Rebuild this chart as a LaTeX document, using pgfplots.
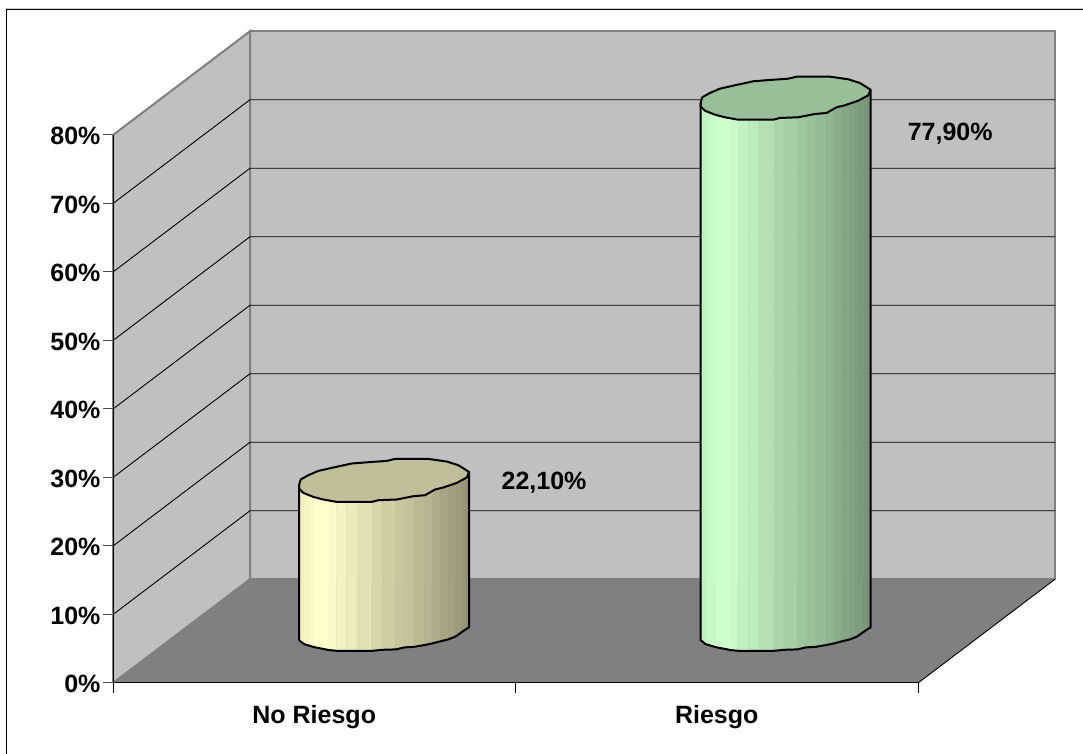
\documentclass[border=0pt]{standalone}
\usepackage{fontspec}
\setmainfont{Liberation Sans}
\usepackage{pgfplots}
\usepackage{pgfplotstable}
\pgfplotsset{compat=1.18}

\definecolor{wallgray}{HTML}{C0C0C0}
\definecolor{floorgray}{HTML}{808080}
\definecolor{cylyellow}{HTML}{FFFFCC}
\definecolor{cylgreen}{HTML}{CCFFCC}

% Outline of a cylinder's top face: pixel offsets from its centre
\pgfplotstableread{
dx dy
-85 4.5
-83.3 -1.2
-75.7 -5.5
-65.7 -9.8
-50.7 -13.2
-32.3 -17.2
-15.7 -18.5
2.7 -19.8
11 -21.8
44.3 -21.8
62.7 -19.2
74.3 -15.5
85 -8.8
82.7 -3.2
72.7 2.2
59.3 6.8
51 8.8
41 14.5
29.3 15.5
12.7 18.8
-5.7 19.5
-12.3 21.2
-47.3 21.2
-60.7 18.8
-70.7 16.2
-80.7 12.2
-85 7.8
-85 4.5
}\toprim

% Sides and lower rim; top=1 marks points that rise with the value
\pgfplotstableread{
dx dy top
-85 4.5 1
-85 8 0
-80 12 0
-75.7 13.3 0
-70 15 0
-54.7 18 0
-47.3 18.7 0
-11.3 18.7 0
-1.7 17.7 0
11.7 17.3 0
20.3 15.3 0
30.3 14.7 0
40.3 13 0
48.3 11.3 0
56 9.3 0
64.3 7.3 0
71.7 4.3 0
77.7 0 0
81.7 -2.7 0
85 -4.7 0
85 -8.8 1
}\sideoutline

% Vertical shading bands: left dx/dy, right dx/dy, brightness
\def\bandlist{-85/8/-80/12/94,-80/12/-75.7/13.3/96,-75.7/13.3/-70/15/98,-70/15/-54.7/18/100,
-54.7/18/-47.3/18.7/98,-47.3/18.7/-37.3/18.7/95,-37.3/18.7/-26.7/18.7/92,-26.7/18.7/-11.3/18.7/88,
-11.3/18.7/-1.7/17.7/84,-1.7/17.7/11.7/17.3/81,11.7/17.3/20.3/15.3/78,20.3/15.3/30.3/14.7/76,
30.3/14.7/40.3/13/73,40.3/13/48.3/11.3/71,48.3/11.3/56/9.3/68,56/9.3/64.3/7.3/65,
64.3/7.3/71.7/4.3/63,71.7/4.3/77.7/0/61,77.7/0/81.7/-2.7/59,81.7/-2.7/85/-4.7/57}

% Cylinder: #1 horizontal centre, #2 value in percent, #3 colour
\newcommand\cylinder[3]{%
  \foreach \xa/\ya/\xb/\yb/\sh in \bandlist {%
    \pgfmathsetmacro\XA{#1+\xa/402.5}%
    \pgfmathsetmacro\XB{#1+\xb/402.5}%
    \pgfmathsetmacro\YA{7.43-\ya/6.85}%
    \pgfmathsetmacro\YB{7.43-\yb/6.85}%
    \pgfmathsetmacro\TA{#2+7.43+(2.15+0.078*\xa)/6.85}%
    \pgfmathsetmacro\TB{#2+7.43+(2.15+0.078*\xb)/6.85}%
    \edef\temp{\noexpand\addplot[fill=#3!\sh!black,draw=#3!\sh!black,line width=0.4pt,forget plot]
      coordinates {(\XA,\YA) (\XB,\YB) (\XB,\TB) (\XA,\TA) (\XA,\YA)};}%
    \temp
  }%
  \addplot[fill=#3!75!black,draw=black,line width=2pt,line join=round,forget plot]
    table[x expr={#1+\thisrow{dx}/402.5},y expr={#2+7.43-\thisrow{dy}/6.85}] {\toprim};
  \addplot[draw=black,line width=2pt,line join=round,forget plot]
    table[x expr={#1+\thisrow{dx}/402.5},y expr={7.43+\thisrow{top}*#2-\thisrow{dy}/6.85}] {\sideoutline};
}

% Back-wall gridline at a given value
\newcommand\gridline[1]{%
  \addplot[black,line width=0.9pt,forget plot] coordinates {(0,#1) (0.3404,#1+15.15) (2.3404,#1+15.15)};
}

\begin{document}
\begin{tikzpicture}[x=1pt,y=1pt]
\fill[white] (0,0) rectangle (1083,754);
% Chart frame: only its top and left sides fall inside the page
\draw[black!20,line width=1pt] (5,745.8) -- (1083,745.8);
\draw[black,line width=1.5pt] (6.7,0) -- (6.7,744.7) -- (1083,744.7);
\begin{axis}[
  at={(113pt,71pt)},anchor=south west,
  scale only axis,width=805pt,height=548pt,
  xmin=0,xmax=2,ymin=0,ymax=80,
  clip=false,axis on top=true,
  axis lines=left,axis line style={-,black,line width=1pt},
  tick align=outside,
  major tick length=10pt,minor tick length=10pt,
  xtick={0.5,1.5},xticklabels={No Riesgo,Riesgo},
  minor xtick={0,1,2},
  major x tick style={draw=none},
  minor x tick style={black,line width=1pt},
  y tick style={black!70,line width=1pt},
  ytick={0,10,...,80},
  yticklabel={\pgfmathprintnumber{\tick}\%},
  /pgf/number format/assume math mode=true,
  tick label style={font=\fontsize{25}{28}\selectfont\bfseries},
  yticklabel style={xshift=1pt,yshift=-1pt},
  xticklabel style={yshift=-9pt},
]
% Floor, back wall and side wall
\addplot[fill=floorgray,draw=none,forget plot] coordinates {(0,0) (0.3404,15.15) (2.3404,15.15) (2,0) (0,0)};
\addplot[fill=wallgray,draw=floorgray,line width=2pt,forget plot] coordinates {(0.3404,15.15) (0.3404,95.15) (2.3404,95.15) (2.3404,15.15) (0.3404,15.15)};
\addplot[fill=wallgray,draw=floorgray,line width=2pt,forget plot] coordinates {(0,0) (0,80) (0.3404,95.15) (0.3404,15.15) (0,0)};
\addplot[black,line width=0.9pt,forget plot] coordinates {(2,0) (2.3404,15.15)};
\gridline{10}\gridline{20}\gridline{30}\gridline{40}\gridline{50}\gridline{60}\gridline{70}
% One cylinder per category, base set halfway into the depth
\cylinder{0.6733}{22.1}{cylyellow}
\cylinder{1.671}{77.9}{cylgreen}
\node[font=\fontsize{25}{28}\selectfont\bfseries] at (axis cs:1.071,29.2) {22,10\%};
\node[font=\fontsize{25}{28}\selectfont\bfseries] at (axis cs:2.080,80.2) {77,90\%};
\end{axis}
\pgfresetboundingbox
\path[use as bounding box] (0,0) rectangle (1083,754);
\end{tikzpicture}
\end{document}
